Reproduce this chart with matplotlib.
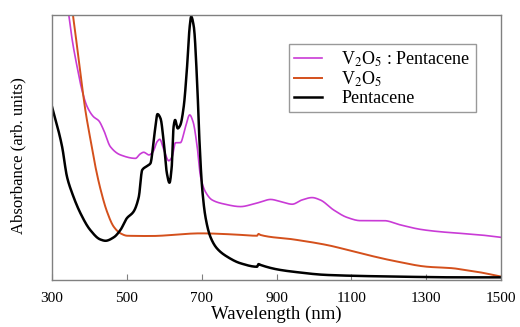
import matplotlib
matplotlib.use("Agg")
import matplotlib.pyplot as plt
import numpy as np

# Wavelength (nm) and absorbance (arb. units, 0 = axis bottom, 1 = axis top)
wl_pent = [300, 327, 340, 354, 376, 402, 429, 443, 465, 483, 500, 518, 532, 541,
           554, 563, 574, 582, 590, 599, 607, 614, 620, 625, 629, 636, 643, 652,
           661, 668, 672, 679, 688, 694, 701, 710, 723, 741, 768, 804, 848, 852,
           857, 902, 946, 1035, 1213, 1392, 1500]
ab_pent = [0.654, 0.503, 0.390, 0.327, 0.252, 0.189, 0.153, 0.148, 0.161, 0.189,
           0.233, 0.258, 0.314, 0.415, 0.430, 0.440, 0.553, 0.626, 0.610, 0.516,
           0.403, 0.367, 0.428, 0.579, 0.604, 0.572, 0.585, 0.654, 0.805, 0.956,
           0.994, 0.956, 0.742, 0.528, 0.352, 0.239, 0.164, 0.119, 0.088, 0.063,
           0.050, 0.060, 0.057, 0.040, 0.031, 0.019, 0.013, 0.010, 0.010]

wl_mix = [330, 345, 354, 367, 380, 394, 411, 425, 438, 456, 483, 523, 536, 545,
          559, 570, 581, 588, 599, 612, 621, 630, 643, 657, 668, 677, 688, 697,
          710, 728, 759, 804, 839, 857, 884, 911, 942, 968, 995, 1017, 1053,
          1089, 1124, 1187, 1231, 1285, 1338, 1392, 1445, 1500]
ab_mix = [1.15, 1.000, 0.906, 0.805, 0.717, 0.654, 0.616, 0.601, 0.566, 0.503,
          0.472, 0.459, 0.476, 0.482, 0.472, 0.484, 0.522, 0.531, 0.491, 0.450,
          0.465, 0.518, 0.518, 0.579, 0.623, 0.597, 0.503, 0.390, 0.333, 0.302,
          0.287, 0.277, 0.287, 0.294, 0.304, 0.296, 0.286, 0.302, 0.311, 0.302,
          0.264, 0.236, 0.224, 0.224, 0.208, 0.191, 0.182, 0.176, 0.170, 0.161]

wl_v2o5 = [340, 356, 367, 376, 389, 403, 416, 429, 447, 465, 483, 501, 563, 697,
           784, 848, 852, 857, 946, 1035, 1124, 1214, 1303, 1374, 1392, 1436, 1500]
ab_v2o5 = [1.20, 1.000, 0.881, 0.780, 0.642, 0.528, 0.428, 0.346, 0.258, 0.201,
           0.176, 0.167, 0.166, 0.176, 0.172, 0.167, 0.174, 0.170, 0.153, 0.132,
           0.101, 0.072, 0.050, 0.044, 0.040, 0.031, 0.013]

labels = [r"V$_2$O$_5$ : Pentacene", r"V$_2$O$_5$", "Pentacene"]
xticks = [300, 500, 700, 900, 1100, 1300, 1500]

plt.rcParams['font.family'] = ['Liberation Serif', 'DejaVu Serif']
plt.rcParams['mathtext.fontset'] = 'stix'


def pchip(x, y, n=1500):
    x = np.asarray(x, float)
    y = np.asarray(y, float)
    h = np.diff(x)
    d = np.diff(y) / h
    m = np.zeros_like(y)
    for k in range(1, len(x) - 1):
        if d[k - 1] * d[k] > 0:
            w1 = 2 * h[k] + h[k - 1]
            w2 = h[k] + 2 * h[k - 1]
            m[k] = (w1 + w2) / (w1 / d[k - 1] + w2 / d[k])
    m[0] = d[0]
    m[-1] = d[-1]
    xs = np.linspace(x[0], x[-1], n)
    idx = np.clip(np.searchsorted(x, xs) - 1, 0, len(x) - 2)
    t = (xs - x[idx]) / h[idx]
    h00 = 2 * t**3 - 3 * t**2 + 1
    h10 = t**3 - 2 * t**2 + t
    h01 = -2 * t**3 + 3 * t**2
    h11 = t**3 - t**2
    ys = (h00 * y[idx] + h10 * h[idx] * m[idx] + h01 * y[idx + 1]
          + h11 * h[idx] * m[idx + 1])
    return xs, ys


fig = plt.figure(figsize=(5.2, 3.27), dpi=100)
ax = fig.add_axes([52/520, 47/327, 449/520, 265/327])

ax.plot(*pchip(wl_mix, ab_mix), color='#C93BD6', lw=1.2, label=labels[0])
ax.plot(*pchip(wl_v2o5, ab_v2o5), color='#D4501C', lw=1.4, label=labels[1])
ax.plot(*pchip(wl_pent, ab_pent), color='black', lw=1.8, label=labels[2])

ax.set_xlim(300, 1500)
ax.set_ylim(0, 1.0)
ax.set_yticks([])
ax.set_xticks(xticks)
ax.set_xticklabels([str(t) for t in xticks], fontsize=11)
ax.tick_params(axis='x', direction='in', length=4, pad=9, color='#808080')
for s in ax.spines.values():
    s.set_color('#808080')
    s.set_linewidth(1.0)

ax.set_xlabel("Wavelength (nm)", fontsize=13.5)
ax.xaxis.set_label_coords(0.5, -0.098)
ax.set_ylabel("Absorbance (arb. units)", fontsize=12)
ax.yaxis.set_label_coords(-0.058, 0.47)

leg = ax.legend(loc='upper left', bbox_to_anchor=(0.528, 0.891), fontsize=13,
                frameon=True, fancybox=False, edgecolor='#808080',
                handlelength=1.5, handletextpad=1.1, borderpad=0.3,
                labelspacing=0.05, borderaxespad=0)
leg.get_frame().set_linewidth(1.0)

fig.savefig("out.png", dpi=100)
